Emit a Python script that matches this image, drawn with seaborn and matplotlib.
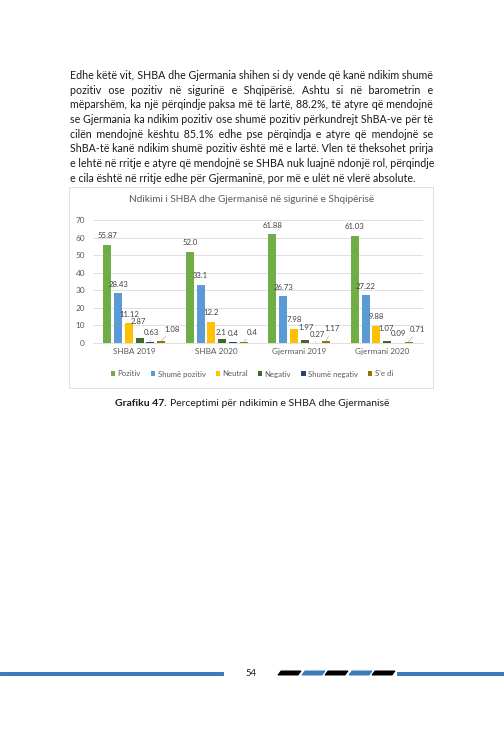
import pandas as pd
import seaborn as sns
import matplotlib.pyplot as plt
from matplotlib.patches import Rectangle, Polygon

# ---- data ----
categories = ['SHBA 2019', 'SHBA 2020', 'Gjermani 2019', 'Gjermani 2020']
responses = ['Pozitiv', 'Shumë pozitiv', 'Neutral', 'Negativ', 'Shumë negativ', "S'e di"]
pozitiv = [55.87, 52.0, 61.88, 61.03]
shume_pozitiv = [28.43, 33.1, 26.73, 27.22]
neutral = [11.12, 12.2, 7.98, 9.88]
negativ = [2.87, 2.1, 1.97, 1.07]
shume_negativ = [0.63, 0.4, 0.27, 0.09]
se_di = [1.08, 0.4, 1.17, 0.71]
yticks = [0, 10, 20, 30, 40, 50, 60, 70]

colors = ['#70ad47', '#5b9bd5', '#ffc000', '#43682b', '#264478', '#997300']

# label offsets in px (dx, dy above bar top, leader line) where excel moved them
label_moves = {
    (3, 0): (-1.5, 16, False), (4, 0): (1, 9, True), (5, 0): (11, 12, True),
    (3, 1): (-1, 7, False), (5, 1): (9, 10, True),
    (3, 2): (1, 12, False), (4, 2): (2, 8, True), (5, 2): (6, 12, True),
    (3, 3): (-1, 13, False), (4, 3): (1, 9, False), (5, 3): (9, 12, True),
}

body = [
    "Edhe këtë vit, SHBA dhe Gjermania shihen si dy vende që kanë ndikim shumë",
    "pozitiv ose pozitiv në sigurinë e Shqipërisë. Ashtu si në barometrin e",
    "mëparshëm, ka një përqindje paksa më të lartë, 88.2%, të atyre që mendojnë",
    "se Gjermania ka ndikim pozitiv ose shumë pozitiv përkundrejt ShBA-ve për të",
    "cilën mendojnë kështu 85.1% edhe pse përqindja e atyre që mendojnë se",
    "ShBA-të kanë ndikim shumë pozitiv është më e lartë. Vlen të theksohet prirja",
    "e lehtë në rritje e atyre që mendojnë se SHBA nuk luajnë ndonjë rol, përqindje",
    "e cila është në rritje edhe për Gjermaninë, por më e ulët në vlerë absolute.",
]

W, H = 504, 729
sns.set_theme(style='white')
plt.rcParams['font.family'] = ['Lato', 'DejaVu Sans']

fig = plt.figure(figsize=(W / 72, H / 72), dpi=72)
fig.patch.set_facecolor('white')


def fx(px):
    return px / W


def fy(py):
    return 1 - py / H


renderer = fig.canvas.get_renderer()
probe = fig.text(0, 0, '', fontsize=10.6)


def text_w(s):
    probe.set_text(s)
    return probe.get_window_extent(renderer).width


# ---- justified paragraph (one text per line, widened with hair spaces) ----
x0, x1 = 70, 433
hair = '\u200a'
hw = text_w('a' + hair + 'a') - text_w('aa')
if hw < 0.3:
    hair = '\u2009'
    hw = text_w('a' + hair + 'a') - text_w('aa')
for i, line in enumerate(body):
    words = line.split()
    s = line
    if i < len(body) - 1:
        extra = (x1 - x0) - text_w(line)
        per = extra / (len(words) - 1) / hw
        s = words[0]
        for k, w in enumerate(words[1:]):
            n = int(round((k + 1) * per)) - int(round(k * per))
            s += ' ' + hair * max(n, 0) + w
    fig.text(fx(x0), fy(79.3 + i * 14.6), s, fontsize=10.6, color='#1a1a1a', va='baseline')
probe.set_text('')

# ---- chart frame ----
fig.patches.append(Rectangle((fx(69), fy(388)), fx(433) - fx(69), fy(187) - fy(388),
                             transform=fig.transFigure, fill=False,
                             edgecolor='#d9d9d9', linewidth=0.8))
fig.text(fx(252), fy(200), 'Ndikimi i SHBA dhe Gjermanisë në sigurinë e Shqipërisë',
         ha='center', va='center', fontsize=10, color='#595959')

ax = fig.add_axes([fx(93), fy(343), fx(423) - fx(93), fy(220) - fy(343)])

series = [pozitiv, shume_pozitiv, neutral, negativ, shume_negativ, se_di]
rows = []
for r, vals in zip(responses, series):
    for c, v in zip(categories, vals):
        rows.append({'cat': c, 'resp': r, 'val': v})
df = pd.DataFrame(rows)

sns.barplot(data=df, x='cat', y='val', hue='resp', order=categories, hue_order=responses,
            palette=colors, width=0.78, gap=0.25, saturation=1, linewidth=0,
            legend=False, ax=ax)

ax.set_ylim(0, 70)
ax.set_yticks(yticks)
ax.set_xlim(-0.5, 3.5)
ax.grid(axis='y', color='#d9d9d9', linewidth=0.8)
ax.set_axisbelow(True)
for s in ['top', 'right', 'left']:
    ax.spines[s].set_visible(False)
ax.spines['bottom'].set_color('#d9d9d9')
ax.spines['bottom'].set_linewidth(0.8)
ax.tick_params(axis='both', length=0, labelsize=8.2, labelcolor='#595959')
ax.tick_params(axis='y', pad=8)
ax.tick_params(axis='x', pad=5)
ax.set_xlabel('')
ax.set_ylabel('')

# data labels
for si, cont in enumerate(ax.containers):
    for ci, bar in enumerate(cont):
        val = series[si][ci]
        dx, dy, leader = label_moves.get((si, ci), (0, 9, False))
        bx = bar.get_x() + bar.get_width() / 2
        kw = {}
        if leader:
            kw['arrowprops'] = dict(arrowstyle='-', color='#a6a6a6', lw=0.6,
                                    shrinkA=1, shrinkB=0)
        ax.annotate(str(val), xy=(bx, val), xytext=(dx, dy), textcoords='offset points',
                    ha='center', va='center', fontsize=7.8, color='#404040',
                    annotation_clip=False, **kw)

# legend
handles = [Rectangle((0, 0), 1, 1, facecolor=c, edgecolor='none') for c in colors]
fig.legend(handles, responses, loc='center', bbox_to_anchor=(fx(252), fy(374)), ncol=6,
           frameon=False, fontsize=7.8, labelcolor='#595959', handlelength=0.55,
           handleheight=0.55, handletextpad=0.3, columnspacing=1.3)

# ---- caption ----
cap_b = fig.text(0, fy(406), 'Grafiku 47.', fontsize=10.4, fontweight='bold',
                 color='#1a1a1a', va='baseline')
cap_r = fig.text(0, fy(406), 'Perceptimi për ndikimin e SHBA dhe Gjermanisë', fontsize=10.4,
                 color='#1a1a1a', va='baseline')
wb = cap_b.get_window_extent(renderer).width
wr = cap_r.get_window_extent(renderer).width
start = 252 - (wb + 3 + wr) / 2
cap_b.set_x(fx(start))
cap_r.set_x(fx(start + wb + 3))

# ---- footer ----
blue = '#3d7ab8'
fig.patches.append(Rectangle((0, fy(674.5)), fx(223), fy(671.5) - fy(674.5),
                             transform=fig.transFigure, color=blue))
fig.patches.append(Rectangle((fx(397), fy(674.5)), 1 - fx(397), fy(671.5) - fy(674.5),
                             transform=fig.transFigure, color=blue))
dash_x = [278, 302, 325, 349, 372]
dash_c = ['black', blue, 'black', blue, 'black']
for xs, c in zip(dash_x, dash_c):
    pts = [(fx(xs), fy(675)), (fx(xs + 20), fy(675)), (fx(xs + 23), fy(671)), (fx(xs + 3), fy(671))]
    fig.patches.append(Polygon(pts, closed=True, transform=fig.transFigure, color=c))
fig.text(fx(251), fy(673), '54', ha='center', va='center', fontsize=9.5, color='#1a1a1a')

fig.savefig('out.png', dpi=72, facecolor='white')
